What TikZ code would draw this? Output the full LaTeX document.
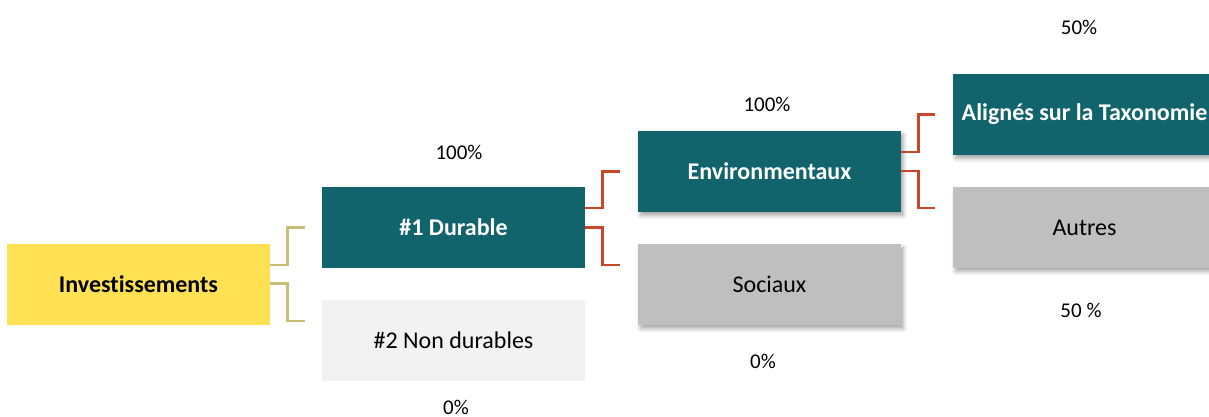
\documentclass[tikz,border=0pt]{standalone}
\usepackage{fontspec}
\setmainfont[Ligatures={NoCommon}]{Carlito}
\usetikzlibrary{shadows.blur,calc}
\definecolor{tealc}{HTML}{11636C}
\definecolor{yellowc}{HTML}{FFE153}
\definecolor{grayc}{HTML}{BFBFBF}
\definecolor{lightc}{HTML}{F2F2F2}
\definecolor{tanc}{HTML}{C9BE78}
\definecolor{redc}{HTML}{C8472B}
\begin{document}
\begin{tikzpicture}[x=0.5pt,y=-0.5pt,
  box/.style={minimum width=131.5pt, minimum height=40.5pt, inner sep=0pt, anchor=center, font=\fontsize{12}{14}\selectfont},
  shad/.style={blur shadow={shadow xshift=1.2pt, shadow yshift=-1.8pt, shadow blur steps=6, shadow blur radius=2pt, shadow opacity=35}},
  tealflat/.style={box, fill=tealc, text=white, font=\bfseries\fontsize{12}{14}\selectfont},
  tealbox/.style={tealflat, shad},
  graybox/.style={box, shad, fill=grayc, text=black},
  lightbox/.style={box, fill=lightc, text=black},
  yellowbox/.style={box, fill=yellowc, text=black, font=\bfseries\fontsize{12}{14}\selectfont},
  pct/.style={inner sep=0pt, font=\fontsize{10.5}{12}\selectfont},
  tanline/.style={draw=tanc, line width=1.1pt},
  redline/.style={draw=redc, line width=1.1pt}
]
\useasboundingbox (0,0) rectangle (1209,417);
\clip (0,0) rectangle (1209,417);
\node[yellowbox] (inv) at (138.5,284.5) {Investissements};
\node[tealflat] (dur) at (453.5,227.5) {\#1 Durable};
\node[lightbox] (nondur) at (453.5,340.5) {\#2 Non durables};
\node[tealbox] (env) at (769.5,171.5) {Environmentaux};
\node[graybox] (soc) at (769.5,284.5) {Sociaux};
\node[tealbox] (tax) at (1084.5,114.5) {Alignés sur la Taxonomie};
\node[graybox] (aut) at (1084.5,227.5) {Autres};

\draw[tanline] ($(inv.east)+(0,-19.5)$) -- ++(17,0) |- ($(dur.west)+(-17,0)$);
\draw[tanline] ($(inv.east)+(0,-1)$) -- ++(17,0) |- ($(nondur.west)+(-17,-19.5)$);
\draw[redline] ($(dur.east)+(0,-19.5)$) -- ++(17,0) |- ($(env.west)+(-18,0)$);
\draw[redline] ($(dur.east)+(0,0)$) -- ++(17,0) |- ($(soc.west)+(-18,-19.5)$);
\draw[redline] ($(env.east)+(0,-19.5)$) -- ++(17,0) |- ($(tax.west)+(-18,0)$);
\draw[redline] ($(env.east)+(0,-0.5)$) -- ++(17,0) |- ($(aut.west)+(-18,-19.5)$);

\node[pct] (p1) at (459,152) {100\%};
\node[pct] (p2) at (456,407) {0\%};
\node[pct] (p3) at (767,104) {100\%};
\node[pct] (p4) at (763,361) {0\%};
\node[pct] (p5) at (1079,27) {50\%};
\node[pct] (p6) at (1081,310) {50 \%};
\end{tikzpicture}
\end{document}
